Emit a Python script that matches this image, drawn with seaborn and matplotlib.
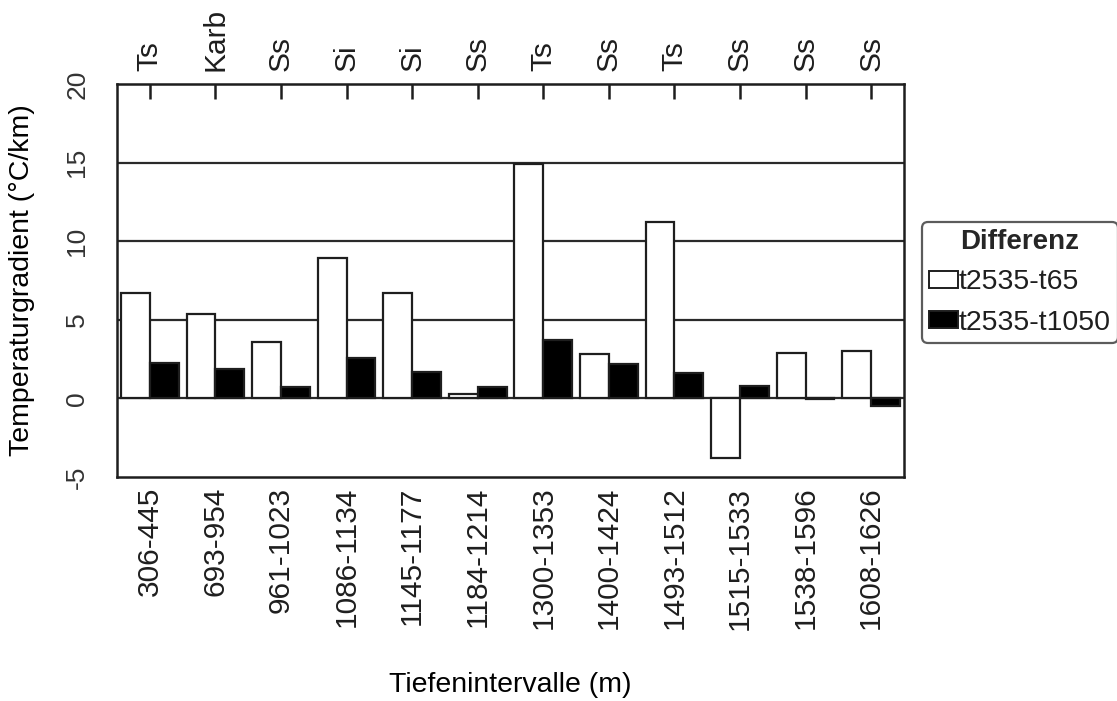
import matplotlib
matplotlib.use("Agg")
import matplotlib.pyplot as plt
import seaborn as sns
import pandas as pd
from matplotlib.patches import Patch

intervals = ["306-445", "693-954", "961-1023", "1086-1134", "1145-1177", "1184-1214",
             "1300-1353", "1400-1424", "1493-1512", "1515-1533", "1538-1596", "1608-1626"]
lithology = ["Ts", "Karb", "Ss", "Si", "Si", "Ss", "Ts", "Ss", "Ts", "Ss", "Ss", "Ss"]
diff_t65 = [6.7, 5.4, 3.6, 8.9, 6.7, 0.3, 14.9, 2.8, 11.2, -3.8, 2.9, 3.0]
diff_t1050 = [2.25, 1.9, 0.7, 2.6, 1.7, 0.7, 3.7, 2.2, 1.6, 0.8, -0.05, -0.5]
series = ["t2535-t65", "t2535-t1050"]
y_ticks = [-5, 0, 5, 10, 15, 20]

df = pd.DataFrame({
    "Intervall": intervals * 2,
    "Wert": diff_t65 + diff_t1050,
    "Differenz": [series[0]] * len(intervals) + [series[1]] * len(intervals),
})

sns.set_style("white")
plt.rcParams["font.family"] = ["Liberation Sans", "DejaVu Sans"]

ink = "#1e1e1e"
W, H = 1117, 701
fig = plt.figure(figsize=(W / 100, H / 100), dpi=100)
ax = fig.add_axes([117 / W, 1 - 477 / H, (904 - 117) / W, (477 - 84) / H])

palette = {series[0]: "white", series[1]: "black"}
sns.barplot(data=df, x="Intervall", y="Wert", hue="Differenz", palette=palette,
            edgecolor=ink, linewidth=1.6, width=0.88, ax=ax, legend=False,
            saturation=1, zorder=3)

# horizontal reference lines behind the bars
for yv in [0, 5, 10, 15]:
    ax.axhline(yv, color="#2a2a2a", linewidth=1.6, zorder=1)

ax.set_xlim(-0.5, len(intervals) - 0.5)
ax.set_ylim(-5, 20)
ax.set_yticks(y_ticks)
ax.set_yticklabels([str(v) for v in y_ticks], rotation=90, va="center",
                   fontsize=19, color="#333333")
ax.set_xticks(range(len(intervals)))
ax.set_xticklabels(intervals, rotation=90, fontsize=21.5, color=ink)
ax.tick_params(axis="x", direction="in", length=11, width=1.8, color=ink, pad=7)
ax.tick_params(axis="y", direction="in", length=4, width=1.2, color=ink, pad=20)

for sp in ax.spines.values():
    sp.set_visible(True)
    sp.set_color(ink)
    sp.set_linewidth(1.8)

top = ax.secondary_xaxis("top")
top.set_xticks(range(len(intervals)))
top.set_xticklabels(lithology, rotation=90, fontsize=21.5, color=ink)
top.tick_params(direction="in", length=11, width=1.8, color=ink, pad=9)

ax.set_xlabel("")
ax.set_ylabel("")
fig.text(510 / W, 1 - 685 / H, "Tiefenintervalle (m)", fontsize=20.5,
         ha="center", va="center", color="black")
fig.text(22 / W, 1 - 280 / H, "Temperaturgradient (°C/km)", fontsize=20.5,
         rotation=90, ha="center", va="center", color="black")

handles = [Patch(facecolor=palette[s], edgecolor=ink, linewidth=1.4, label=s) for s in series]
leg = fig.legend(handles=handles, title="Differenz", loc="upper left",
                 bbox_to_anchor=(922 / W, 1 - 222 / H), fontsize=20.5, title_fontsize=20,
                 frameon=True, fancybox=True, edgecolor="#333333",
                 handlelength=1.0, handleheight=0.55, handletextpad=0.05,
                 borderpad=0.25, labelspacing=0.5, borderaxespad=0)
leg.get_title().set_fontweight("bold")
leg.get_frame().set_linewidth(1.6)
for t in leg.get_texts():
    t.set_color(ink)

fig.savefig("out.png", dpi=100)
